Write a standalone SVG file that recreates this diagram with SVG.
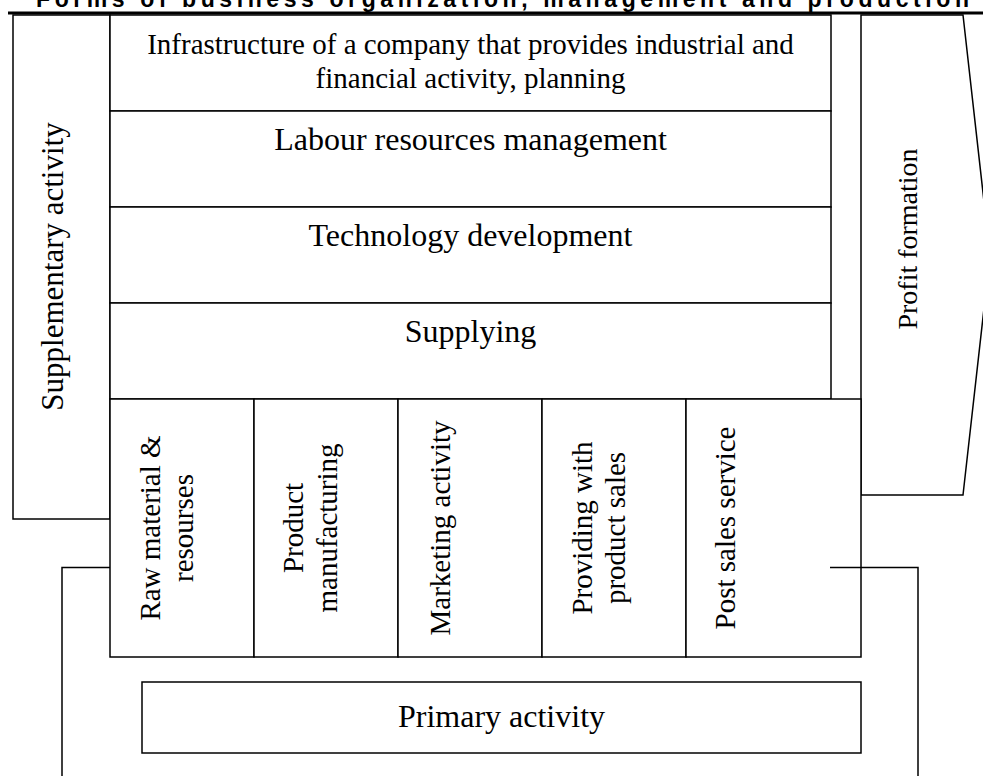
<svg xmlns="http://www.w3.org/2000/svg" width="983" height="776" viewBox="0 0 983 776">
  <style>
    .box { fill: #ffffff; stroke: #000000; stroke-width: 1.5; }
    .line { fill: none; stroke: #000000; stroke-width: 1.5; }
    .lbl { font-family: "Liberation Serif", "Times New Roman", serif; fill: #000000; text-anchor: middle; }
    .big { font-size: 32px; }
    .mid { font-size: 29px; }
    .title { font-family: "Liberation Sans", Arial, sans-serif; font-weight: bold; font-size: 23px; fill: #000000; }
  </style>
  <rect width="983" height="776" fill="#ffffff"/>

  <!-- heading, clipped at the top edge -->
  <text class="title" x="36" y="7" textLength="933" lengthAdjust="spacing">Forms of business organization, management and production</text>
  <line x1="8" y1="13" x2="983" y2="13" stroke="#000000" stroke-width="3"/>

  <!-- connectors -->
  <g id="connectors">
    <polyline class="line" points="110,567.5 62,567.5 62,780"/>
    <polyline class="line" points="830,567.5 918,567.5 918,780"/>
  </g>

  <g id="supplementary">
    <rect class="box" x="13" y="15" width="97" height="504"/>
    <text class="lbl" style="font-size:31px" transform="translate(63,266.5) rotate(-90)">Supplementary activity</text>
  </g>

  <g id="profit">
    <polygon class="box" points="861,15 963,15 990,255 963,495 861,495"/>
    <text class="lbl" style="font-size:28px" transform="translate(917,239) rotate(-90)">Profit formation</text>
  </g>

  <g id="infrastructure">
    <rect class="box" x="110" y="15" width="721" height="96"/>
    <text class="lbl mid" x="470.5" y="54.3">Infrastructure of a company that provides industrial and</text>
    <text class="lbl mid" x="470.5" y="87.7">financial activity, planning</text>
  </g>

  <g id="labour">
    <rect class="box" x="110" y="111" width="721" height="96"/>
    <text class="lbl big" x="470.5" y="150.3">Labour resources management</text>
  </g>

  <g id="technology">
    <rect class="box" x="110" y="207" width="721" height="96"/>
    <text class="lbl big" x="470.5" y="246.3">Technology development</text>
  </g>

  <g id="supplying">
    <rect class="box" x="110" y="303" width="721" height="96"/>
    <text class="lbl big" x="470.5" y="342.3">Supplying</text>
  </g>

  <g id="raw-material">
    <rect class="box" x="110" y="399" width="144" height="258"/>
    <text class="lbl mid" transform="translate(160,528) rotate(-90)">Raw material &amp;</text>
    <text class="lbl mid" transform="translate(193.3,528) rotate(-90)">resourses</text>
  </g>

  <g id="manufacturing">
    <rect class="box" x="254" y="399" width="144" height="258"/>
    <text class="lbl mid" transform="translate(302.7,528) rotate(-90)">Product</text>
    <text class="lbl mid" transform="translate(336.5,528) rotate(-90)">manufacturing</text>
  </g>

  <g id="marketing">
    <rect class="box" x="398" y="399" width="144" height="258"/>
    <text class="lbl mid" transform="translate(450,528) rotate(-90)">Marketing activity</text>
  </g>

  <g id="sales">
    <rect class="box" x="542" y="399" width="144" height="258"/>
    <text class="lbl mid" transform="translate(591.7,528) rotate(-90)">Providing with</text>
    <text class="lbl mid" transform="translate(625,528) rotate(-90)">product sales</text>
  </g>

  <g id="post-sales">
    <rect class="box" x="686" y="399" width="175" height="258"/>
    <text class="lbl mid" transform="translate(735,528) rotate(-90)">Post sales service</text>
  </g>

  <!-- the right-hand connector crosses into the last column -->
  <line class="line" x1="830" y1="567.5" x2="861" y2="567.5"/>

  <g id="primary">
    <rect class="box" x="142" y="682" width="719" height="71"/>
    <text class="lbl big" x="501.5" y="727">Primary activity</text>
  </g>
</svg>
